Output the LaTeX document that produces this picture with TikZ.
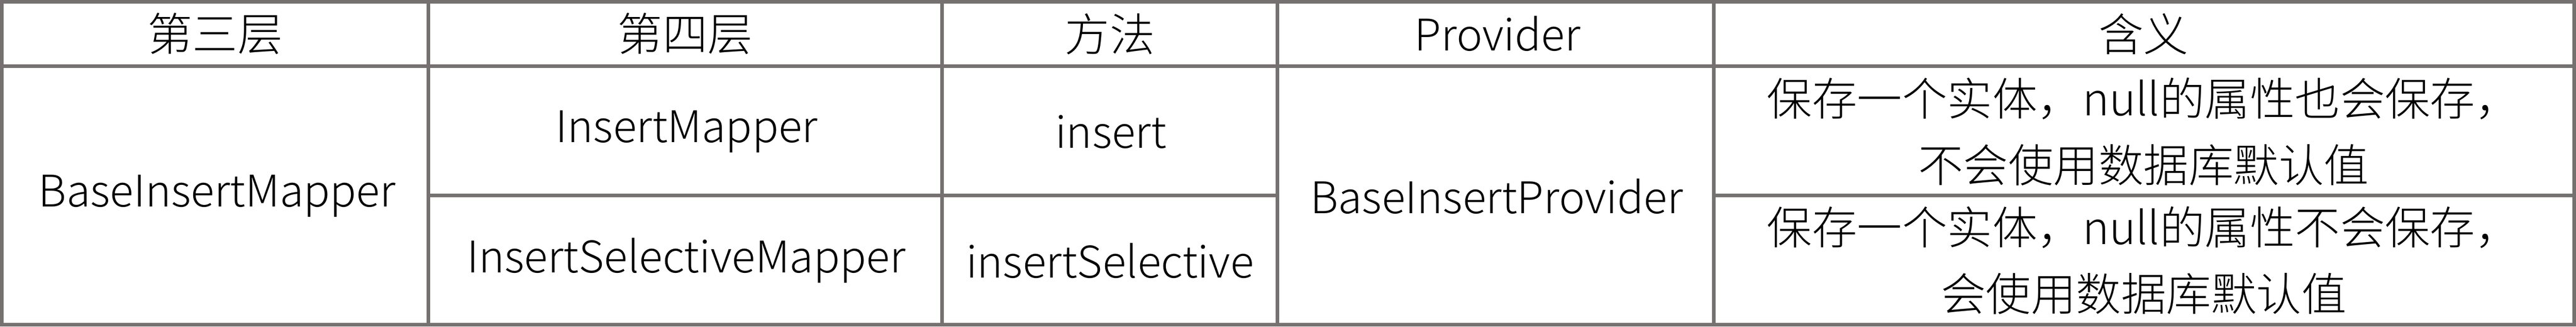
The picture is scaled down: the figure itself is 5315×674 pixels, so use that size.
\documentclass[tikz,border=0pt]{standalone}
\usepackage{fontspec}
\setmainfont{Noto Sans CJK SC}[UprightFont={* Light}]
\definecolor{gridgray}{HTML}{767171}
\begin{document}
\begin{tikzpicture}[x=0.1pt,y=-0.1pt,
  gridline/.style={draw=gridgray,line width=0.75pt},
  cell/.style={inner sep=0pt,align=center,text=black,font=\fontsize{9.3}{13.7}\selectfont},
  latin/.style={cell,font=\fontsize{9.0}{13.7}\selectfont}]
\useasboundingbox (0,0) rectangle (5315,674);
\fill[white] (0,0) rectangle (5315,674);
% grid
\draw[gridline] (4,4) rectangle (5311,670);
\draw[gridline] (4,137) -- (5311,137);
\draw[gridline] (884,4) -- (884,670);
\draw[gridline] (1944,4) -- (1944,670);
\draw[gridline] (2636,4) -- (2636,670);
\draw[gridline] (3536,4) -- (3536,670);
\draw[gridline] (884,403) -- (2636,403);
\draw[gridline] (3536,403) -- (5311,403);
% header
\node[cell] (h1) at (444,70) {第三层};
\node[cell] (h2) at (1414,70) {第四层};
\node[cell] (h3) at (2290,70) {方法};
\node[latin] (h4) at (3090,70) {Provider};
\node[cell] (h5) at (4423,70) {含义};
% body
\node[latin] (base) at (448,405) {BaseInsertMapper};
\node[latin] (m1) at (1417,272) {InsertMapper};
\node[latin] (m2) at (1416,538) {InsertSelectiveMapper};
\node[latin] (f1) at (2292,272) {insert};
\node[latin] (f2) at (2290,538) {insertSelective};
\node[latin] (prov) at (3088,405) {BaseInsertProvider};
\node[cell] (d1) at (4423,272) {保存一个实体，null的属性也会保存，\\不会使用数据库默认值};
\node[cell] (d2) at (4423,538) {保存一个实体，null的属性不会保存，\\会使用数据库默认值};
\end{tikzpicture}
\end{document}
